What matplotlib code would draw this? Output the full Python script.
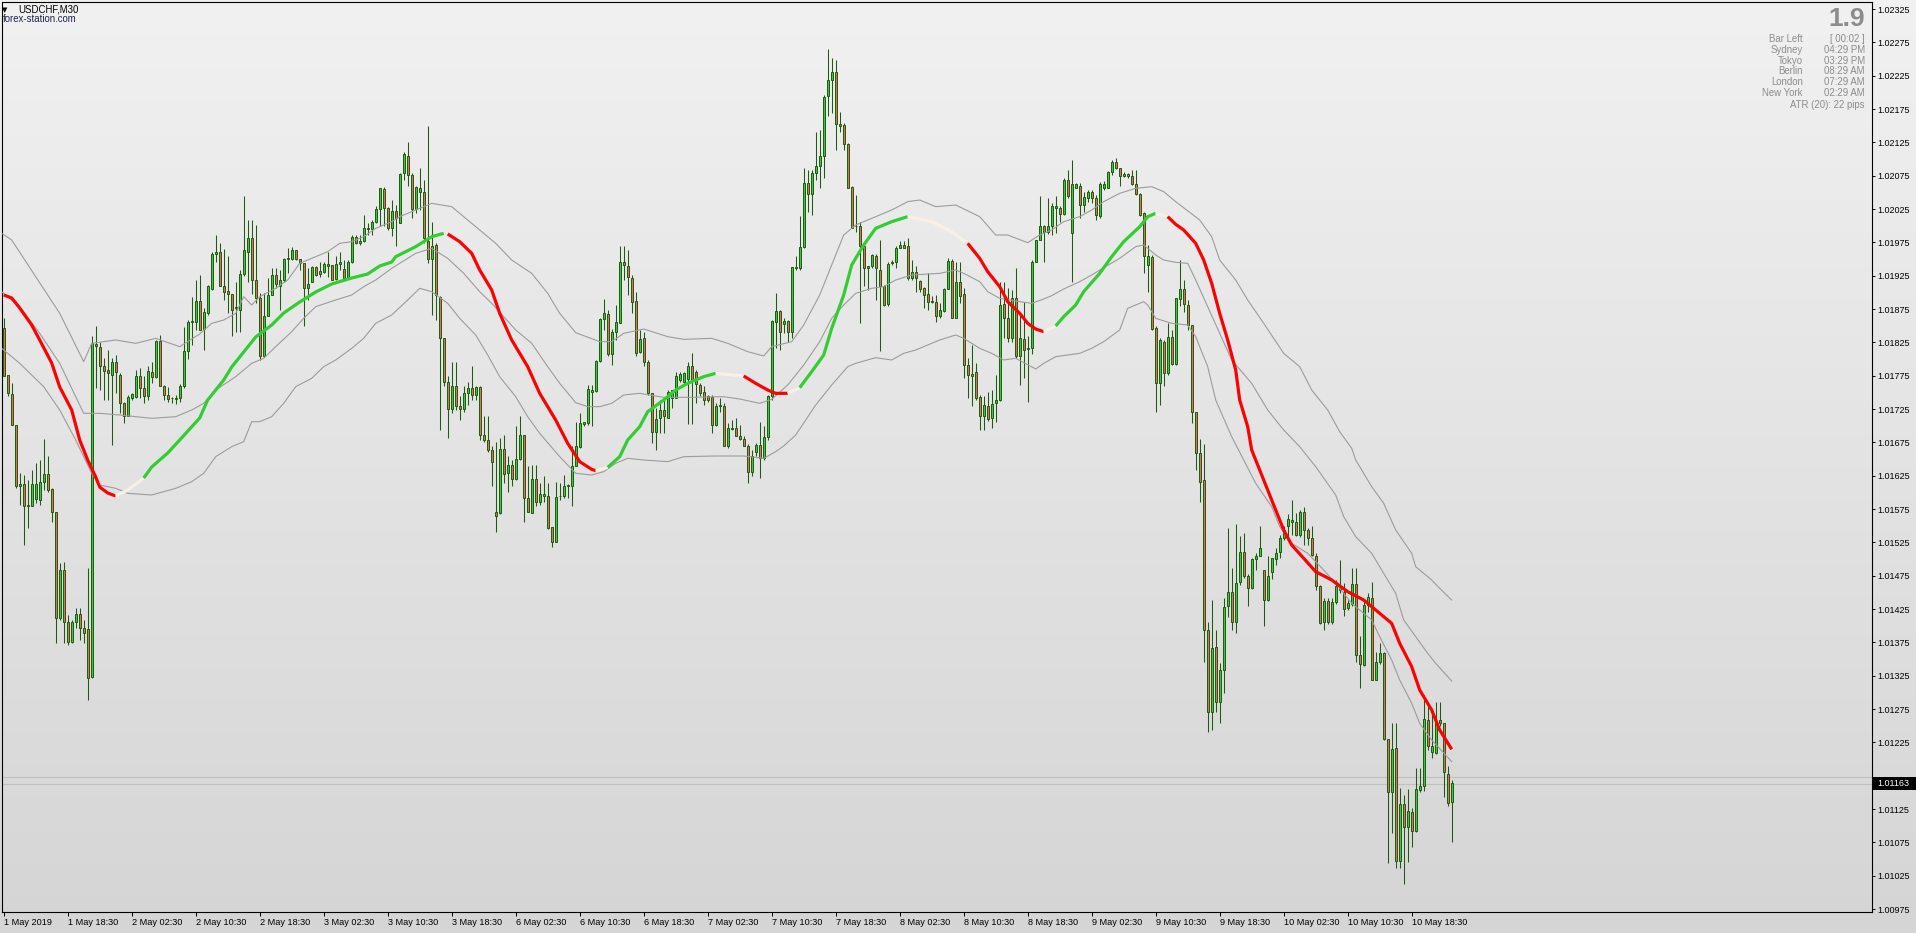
import numpy as np
import matplotlib
matplotlib.use('Agg')
import matplotlib.pyplot as plt
from matplotlib.patches import Rectangle
from matplotlib.colors import LinearSegmentedColormap

plt.rcParams['font.family'] = ['Liberation Sans', 'DejaVu Sans']

# ---- USDCHF M30 candles (oldest first) ----
opens = [
    1.01846, 1.01776, 1.01748, 1.01701, 1.01609, 1.01612, 1.01579, 1.01580, 1.01590, 1.01589,
    1.01615, 1.01627, 1.01605, 1.01570, 1.01411, 1.01484, 1.01405, 1.01376, 1.01406, 1.01418,
    1.01397, 1.01395, 1.01323, 1.01823, 1.01818, 1.01790, 1.01784, 1.01776, 1.01796, 1.01776,
    1.01734, 1.01714, 1.01742, 1.01743, 1.01774, 1.01757, 1.01745, 1.01780, 1.01773, 1.01827,
    1.01759, 1.01746, 1.01742, 1.01742, 1.01741, 1.01759, 1.01812, 1.01856, 1.01855, 1.01887,
    1.01845, 1.01869, 1.01905, 1.01958, 1.01960, 1.01910, 1.01902, 1.01898, 1.01876, 1.01874,
    1.01927, 1.01961, 1.01982, 1.01919, 1.01891, 1.01805, 1.01865, 1.01896, 1.01926, 1.01910,
    1.01919, 1.01950, 1.01950, 1.01963, 1.01950, 1.01944, 1.01906, 1.01916, 1.01938, 1.01927,
    1.01931, 1.01942, 1.01941, 1.01920, 1.01943, 1.01935, 1.01922, 1.01945, 1.01983, 1.01974,
    1.01977, 1.01995, 1.01995, 1.02005, 1.02025, 1.02055, 1.02027, 1.01996, 1.02022, 1.02004,
    1.02079, 1.02105, 1.02076, 1.02025, 1.02050, 1.02050, 1.01977, 1.01950, 1.01971, 1.01893,
    1.01831, 1.01766, 1.01725, 1.01759, 1.01730, 1.01725, 1.01749, 1.01756, 1.01746, 1.01758,
    1.01686, 1.01679, 1.01664, 1.01571, 1.01569, 1.01665, 1.01629, 1.01641, 1.01620, 1.01650,
    1.01686, 1.01591, 1.01569, 1.01620, 1.01585, 1.01594, 1.01594, 1.01548, 1.01525, 1.01594,
    1.01595, 1.01609, 1.01610, 1.01640, 1.01668, 1.01703, 1.01704, 1.01751, 1.01752, 1.01797,
    1.01860, 1.01867, 1.01807, 1.01841, 1.01854, 1.01945, 1.01940, 1.01921, 1.01887, 1.01810,
    1.01831, 1.01795, 1.01749, 1.01691, 1.01711, 1.01724, 1.01712, 1.01741, 1.01741, 1.01769,
    1.01766, 1.01770, 1.01789, 1.01781, 1.01761, 1.01750, 1.01744, 1.01743, 1.01701, 1.01730,
    1.01730, 1.01670, 1.01695, 1.01697, 1.01684, 1.01680, 1.01670, 1.01631, 1.01661, 1.01671,
    1.01651, 1.01683, 1.01744, 1.01856, 1.01872, 1.01852, 1.01857, 1.01840, 1.01936, 1.01936,
    1.01968, 1.02064, 1.02047, 1.02079, 1.02089, 1.02104, 1.02194, 1.02218, 1.02231, 1.02152,
    1.02151, 1.02122, 1.02058, 1.01999, 1.02000, 1.01969, 1.01936, 1.01940, 1.01955, 1.01934,
    1.01910, 1.01882, 1.01944, 1.01946, 1.01967, 1.01971, 1.01970, 1.01921, 1.01931, 1.01917,
    1.01906, 1.01897, 1.01886, 1.01886, 1.01864, 1.01872, 1.01905, 1.01947, 1.01862, 1.01916,
    1.01897, 1.01791, 1.01777, 1.01780, 1.01743, 1.01714, 1.01730, 1.01711, 1.01734, 1.01739,
    1.01882, 1.01861, 1.01832, 1.01892, 1.01805, 1.01830, 1.01815, 1.01816, 1.01946, 1.01979,
    1.02000, 1.01990, 1.02000, 1.02026, 1.02026, 1.02017, 1.02069, 1.01989, 1.02057, 1.02059,
    1.02031, 1.02041, 1.02051, 1.02041, 1.02014, 1.02056, 1.02057, 1.02080, 1.02095, 1.02086,
    1.02074, 1.02077, 1.02074, 1.02063, 1.02047, 1.02019, 1.01941, 1.01953, 1.01846, 1.01764,
    1.01826, 1.01779, 1.01833, 1.01792, 1.01890, 1.01905, 1.01881, 1.01851, 1.01720, 1.01659,
    1.01619, 1.01394, 1.01271, 1.01368, 1.01286, 1.01333, 1.01429, 1.01450, 1.01405, 1.01465,
    1.01510, 1.01475, 1.01456, 1.01500, 1.01505, 1.01484, 1.01438, 1.01480, 1.01500, 1.01510,
    1.01531, 1.01549, 1.01555, 1.01555, 1.01536, 1.01570, 1.01543, 1.01532, 1.01505, 1.01460,
    1.01405, 1.01437, 1.01406, 1.01436, 1.01459, 1.01451, 1.01426, 1.01433, 1.01462, 1.01356,
    1.01341, 1.01431, 1.01441, 1.01319, 1.01345, 1.01359, 1.01230, 1.01150, 1.01216, 1.01047,
    1.01132, 1.01098, 1.01121, 1.01092, 1.01154, 1.01160, 1.01259, 1.01210, 1.01209, 1.01254,
    1.01254, 1.01178, 1.01135,
]
highs = [
    1.01861, 1.01776, 1.01764, 1.01701, 1.01629, 1.01626, 1.01619, 1.01634, 1.01644, 1.01649,
    1.01680, 1.01654, 1.01606, 1.01570, 1.01494, 1.01496, 1.01416, 1.01408, 1.01426, 1.01426,
    1.01408, 1.01486, 1.01834, 1.01849, 1.01826, 1.01801, 1.01814, 1.01801, 1.01806, 1.01779,
    1.01736, 1.01746, 1.01749, 1.01784, 1.01786, 1.01774, 1.01789, 1.01796, 1.01829, 1.01836,
    1.01761, 1.01758, 1.01743, 1.01746, 1.01763, 1.01848, 1.01859, 1.01893, 1.01918, 1.01926,
    1.01876, 1.01911, 1.01961, 1.01986, 1.01974, 1.01965, 1.01954, 1.01898, 1.01916, 1.01934,
    1.02045, 1.02009, 1.02009, 1.02001, 1.01899, 1.01899, 1.01921, 1.01936, 1.01936, 1.01934,
    1.01951, 1.01966, 1.01968, 1.01963, 1.01950, 1.01944, 1.01936, 1.01939, 1.01939, 1.01945,
    1.01946, 1.01960, 1.01941, 1.01954, 1.01960, 1.01949, 1.01949, 1.01986, 1.01986, 1.01986,
    1.02016, 1.02004, 1.02009, 1.02030, 1.02056, 1.02058, 1.02028, 1.02038, 1.02031, 1.02079,
    1.02111, 1.02125, 1.02079, 1.02060, 1.02086, 1.02069, 1.02149, 1.02005, 1.01974, 1.01894,
    1.01831, 1.01774, 1.01795, 1.01795, 1.01744, 1.01759, 1.01766, 1.01789, 1.01759, 1.01759,
    1.01714, 1.01714, 1.01669, 1.01676, 1.01681, 1.01686, 1.01654, 1.01649, 1.01699, 1.01714,
    1.01686, 1.01639, 1.01641, 1.01641, 1.01614, 1.01624, 1.01614, 1.01548, 1.01615, 1.01614,
    1.01626, 1.01612, 1.01670, 1.01706, 1.01719, 1.01706, 1.01761, 1.01761, 1.01799, 1.01861,
    1.01890, 1.01874, 1.01845, 1.01881, 1.01969, 1.01969, 1.01964, 1.01926, 1.01901, 1.01844,
    1.01841, 1.01799, 1.01749, 1.01726, 1.01739, 1.01739, 1.01754, 1.01754, 1.01780, 1.01781,
    1.01781, 1.01796, 1.01809, 1.01784, 1.01764, 1.01759, 1.01746, 1.01746, 1.01734, 1.01741,
    1.01734, 1.01704, 1.01709, 1.01711, 1.01701, 1.01684, 1.01672, 1.01664, 1.01674, 1.01705,
    1.01699, 1.01746, 1.01859, 1.01899, 1.01874, 1.01861, 1.01859, 1.01938, 1.01954, 1.02014,
    1.02086, 1.02084, 1.02083, 1.02141, 1.02144, 1.02196, 1.02265, 1.02251, 1.02249, 1.02171,
    1.02154, 1.02124, 1.02059, 1.02046, 1.02006, 1.01971, 1.01940, 1.01958, 1.01957, 1.01979,
    1.01911, 1.01945, 1.01949, 1.01970, 1.01977, 1.01977, 1.01981, 1.01949, 1.01939, 1.01919,
    1.01908, 1.01929, 1.01894, 1.01896, 1.01884, 1.01906, 1.01952, 1.01950, 1.01946, 1.01946,
    1.01906, 1.01801, 1.01821, 1.01794, 1.01746, 1.01744, 1.01751, 1.01754, 1.01776, 1.01916,
    1.01916, 1.01906, 1.01904, 1.01937, 1.01869, 1.01886, 1.01834, 1.01949, 1.01979, 1.02044,
    1.02001, 1.02041, 1.02034, 1.02044, 1.02029, 1.02071, 1.02084, 1.02099, 1.02064, 1.02064,
    1.02051, 1.02054, 1.02054, 1.02046, 1.02066, 1.02067, 1.02082, 1.02099, 1.02101, 1.02086,
    1.02081, 1.02079, 1.02084, 1.02084, 1.02049, 1.02021, 1.01971, 1.01956, 1.01849, 1.01831,
    1.01829, 1.01854, 1.01844, 1.01891, 1.01949, 1.01919, 1.01889, 1.01851, 1.01720, 1.01680,
    1.01673, 1.01406, 1.01438, 1.01394, 1.01344, 1.01441, 1.01546, 1.01486, 1.01553, 1.01534,
    1.01539, 1.01478, 1.01501, 1.01509, 1.01549, 1.01484, 1.01504, 1.01501, 1.01516, 1.01536,
    1.01550, 1.01568, 1.01589, 1.01569, 1.01574, 1.01578, 1.01546, 1.01549, 1.01509, 1.01461,
    1.01441, 1.01441, 1.01441, 1.01469, 1.01499, 1.01464, 1.01439, 1.01486, 1.01486, 1.01385,
    1.01436, 1.01449, 1.01465, 1.01360, 1.01374, 1.01360, 1.01230, 1.01254, 1.01254, 1.01156,
    1.01146, 1.01155, 1.01126, 1.01186, 1.01186, 1.01296, 1.01286, 1.01274, 1.01285, 1.01285,
    1.01254, 1.01190, 1.01168,
]
lows = [
    1.01774, 1.01744, 1.01701, 1.01606, 1.01581, 1.01521, 1.01546, 1.01579, 1.01584, 1.01581,
    1.01604, 1.01601, 1.01555, 1.01374, 1.01408, 1.01374, 1.01371, 1.01374, 1.01396, 1.01379,
    1.01374, 1.01289, 1.01321, 1.01756, 1.01754, 1.01739, 1.01739, 1.01671, 1.01749, 1.01719,
    1.01704, 1.01714, 1.01739, 1.01741, 1.01741, 1.01734, 1.01739, 1.01764, 1.01771, 1.01759,
    1.01739, 1.01736, 1.01734, 1.01732, 1.01736, 1.01756, 1.01800, 1.01821, 1.01844, 1.01844,
    1.01814, 1.01866, 1.01904, 1.01946, 1.01909, 1.01889, 1.01869, 1.01835, 1.01841, 1.01841,
    1.01924, 1.01916, 1.01898, 1.01884, 1.01798, 1.01804, 1.01864, 1.01896, 1.01906, 1.01874,
    1.01916, 1.01929, 1.01949, 1.01949, 1.01934, 1.01850, 1.01889, 1.01915, 1.01924, 1.01923,
    1.01929, 1.01923, 1.01918, 1.01918, 1.01933, 1.01921, 1.01922, 1.01944, 1.01973, 1.01971,
    1.01976, 1.01986, 1.01986, 1.02004, 1.01999, 1.01999, 1.01994, 1.01984, 1.01969, 1.02004,
    1.02069, 1.02059, 1.02011, 1.02019, 1.02024, 1.01974, 1.01944, 1.01866, 1.01859, 1.01694,
    1.01759, 1.01681, 1.01719, 1.01724, 1.01709, 1.01721, 1.01731, 1.01739, 1.01739, 1.01679,
    1.01676, 1.01661, 1.01609, 1.01540, 1.01568, 1.01614, 1.01600, 1.01609, 1.01619, 1.01649,
    1.01555, 1.01570, 1.01569, 1.01579, 1.01581, 1.01586, 1.01545, 1.01518, 1.01525, 1.01589,
    1.01591, 1.01591, 1.01579, 1.01639, 1.01666, 1.01700, 1.01701, 1.01699, 1.01751, 1.01796,
    1.01844, 1.01805, 1.01791, 1.01829, 1.01854, 1.01919, 1.01896, 1.01869, 1.01804, 1.01809,
    1.01789, 1.01746, 1.01674, 1.01664, 1.01689, 1.01689, 1.01711, 1.01726, 1.01741, 1.01766,
    1.01764, 1.01703, 1.01703, 1.01734, 1.01744, 1.01731, 1.01736, 1.01689, 1.01699, 1.01721,
    1.01670, 1.01666, 1.01694, 1.01684, 1.01678, 1.01669, 1.01614, 1.01624, 1.01654, 1.01621,
    1.01649, 1.01679, 1.01739, 1.01816, 1.01814, 1.01839, 1.01826, 1.01831, 1.01934, 1.01934,
    1.01966, 1.02020, 1.02016, 1.02069, 1.02056, 1.02071, 1.02164, 1.02169, 1.02114, 1.02141,
    1.02114, 1.02056, 1.01996, 1.01991, 1.01854, 1.01909, 1.01904, 1.01936, 1.01889, 1.01812,
    1.01880, 1.01880, 1.01941, 1.01936, 1.01966, 1.01966, 1.01919, 1.01919, 1.01901, 1.01901,
    1.01876, 1.01874, 1.01884, 1.01856, 1.01861, 1.01871, 1.01905, 1.01861, 1.01861, 1.01884,
    1.01771, 1.01741, 1.01730, 1.01739, 1.01694, 1.01694, 1.01707, 1.01696, 1.01706, 1.01737,
    1.01831, 1.01826, 1.01826, 1.01801, 1.01761, 1.01771, 1.01736, 1.01807, 1.01946, 1.01979,
    1.01946, 1.01988, 1.01986, 1.01989, 1.02005, 1.02016, 1.02041, 1.01916, 1.02056, 1.02011,
    1.02021, 1.02036, 1.02034, 1.02009, 1.02011, 1.02054, 1.02056, 1.02076, 1.02085, 1.02059,
    1.02073, 1.02072, 1.02061, 1.02046, 1.02014, 1.01929, 1.01901, 1.01844, 1.01721, 1.01731,
    1.01759, 1.01776, 1.01791, 1.01791, 1.01879, 1.01871, 1.01844, 1.01704, 1.01634, 1.01586,
    1.01345, 1.01240, 1.01244, 1.01271, 1.01254, 1.01299, 1.01413, 1.01394, 1.01389, 1.01461,
    1.01471, 1.01429, 1.01455, 1.01484, 1.01504, 1.01399, 1.01437, 1.01470, 1.01491, 1.01501,
    1.01529, 1.01535, 1.01536, 1.01534, 1.01533, 1.01521, 1.01521, 1.01504, 1.01454, 1.01403,
    1.01393, 1.01403, 1.01402, 1.01433, 1.01449, 1.01414, 1.01424, 1.01429, 1.01345, 1.01307,
    1.01340, 1.01421, 1.01318, 1.01318, 1.01343, 1.01229, 1.01044, 1.01089, 1.01036, 1.01036,
    1.01012, 1.01046, 1.01068, 1.01091, 1.01150, 1.01152, 1.01214, 1.01202, 1.01208, 1.01249,
    1.01143, 1.01130, 1.01076,
]
closes = [
    1.01774, 1.01749, 1.01701, 1.01609, 1.01612, 1.01579, 1.01581, 1.01612, 1.01612, 1.01616,
    1.01627, 1.01604, 1.01570, 1.01412, 1.01484, 1.01406, 1.01375, 1.01405, 1.01418, 1.01397,
    1.01389, 1.01321, 1.01824, 1.01819, 1.01790, 1.01782, 1.01779, 1.01796, 1.01780, 1.01734,
    1.01714, 1.01743, 1.01747, 1.01774, 1.01756, 1.01745, 1.01782, 1.01773, 1.01827, 1.01759,
    1.01746, 1.01740, 1.01741, 1.01740, 1.01759, 1.01812, 1.01855, 1.01857, 1.01887, 1.01844,
    1.01870, 1.01909, 1.01958, 1.01960, 1.01910, 1.01901, 1.01898, 1.01874, 1.01878, 1.01927,
    1.01963, 1.01982, 1.01919, 1.01891, 1.01805, 1.01865, 1.01896, 1.01926, 1.01912, 1.01919,
    1.01950, 1.01951, 1.01963, 1.01950, 1.01944, 1.01906, 1.01913, 1.01938, 1.01926, 1.01932,
    1.01942, 1.01940, 1.01919, 1.01943, 1.01945, 1.01922, 1.01945, 1.01983, 1.01974, 1.01977,
    1.01996, 1.01996, 1.02006, 1.02025, 1.02056, 1.02027, 1.01996, 1.02022, 1.02011, 1.02078,
    1.02107, 1.02076, 1.02025, 1.02058, 1.02056, 1.01981, 1.01950, 1.01970, 1.01896, 1.01831,
    1.01766, 1.01725, 1.01759, 1.01730, 1.01725, 1.01749, 1.01756, 1.01746, 1.01758, 1.01686,
    1.01679, 1.01664, 1.01645, 1.01565, 1.01665, 1.01628, 1.01641, 1.01620, 1.01650, 1.01686,
    1.01591, 1.01570, 1.01620, 1.01585, 1.01597, 1.01597, 1.01546, 1.01525, 1.01593, 1.01595,
    1.01610, 1.01611, 1.01640, 1.01669, 1.01704, 1.01705, 1.01755, 1.01754, 1.01797, 1.01860,
    1.01869, 1.01807, 1.01841, 1.01855, 1.01945, 1.01941, 1.01923, 1.01885, 1.01809, 1.01830,
    1.01795, 1.01749, 1.01690, 1.01710, 1.01724, 1.01715, 1.01751, 1.01754, 1.01774, 1.01778,
    1.01779, 1.01789, 1.01769, 1.01763, 1.01749, 1.01739, 1.01739, 1.01701, 1.01730, 1.01731,
    1.01670, 1.01696, 1.01696, 1.01685, 1.01680, 1.01670, 1.01630, 1.01654, 1.01671, 1.01651,
    1.01683, 1.01744, 1.01857, 1.01872, 1.01841, 1.01857, 1.01840, 1.01938, 1.01938, 1.01968,
    1.02064, 1.02047, 1.02079, 1.02089, 1.02104, 1.02193, 1.02219, 1.02230, 1.02152, 1.02149,
    1.02122, 1.02057, 1.01997, 1.02000, 1.01970, 1.01936, 1.01940, 1.01956, 1.01936, 1.01909,
    1.01881, 1.01942, 1.01946, 1.01966, 1.01971, 1.01967, 1.01922, 1.01931, 1.01921, 1.01905,
    1.01896, 1.01886, 1.01887, 1.01864, 1.01874, 1.01905, 1.01947, 1.01862, 1.01916, 1.01895,
    1.01791, 1.01776, 1.01775, 1.01741, 1.01714, 1.01731, 1.01710, 1.01732, 1.01739, 1.01881,
    1.01861, 1.01832, 1.01892, 1.01804, 1.01831, 1.01814, 1.01816, 1.01946, 1.01979, 1.02000,
    1.01990, 1.02000, 1.02030, 1.02029, 1.02017, 1.02069, 1.02044, 1.02062, 1.02062, 1.02031,
    1.02043, 1.02051, 1.02042, 1.02016, 1.02062, 1.02062, 1.02080, 1.02095, 1.02086, 1.02074,
    1.02077, 1.02074, 1.02062, 1.02047, 1.02016, 1.01955, 1.01954, 1.01845, 1.01764, 1.01829,
    1.01779, 1.01833, 1.01792, 1.01891, 1.01905, 1.01882, 1.01851, 1.01720, 1.01659, 1.01616,
    1.01394, 1.01270, 1.01366, 1.01286, 1.01334, 1.01428, 1.01450, 1.01405, 1.01464, 1.01510,
    1.01475, 1.01456, 1.01500, 1.01505, 1.01516, 1.01439, 1.01474, 1.01501, 1.01509, 1.01531,
    1.01543, 1.01560, 1.01558, 1.01536, 1.01571, 1.01544, 1.01531, 1.01506, 1.01460, 1.01404,
    1.01437, 1.01406, 1.01435, 1.01459, 1.01453, 1.01425, 1.01434, 1.01462, 1.01356, 1.01343,
    1.01431, 1.01443, 1.01319, 1.01346, 1.01359, 1.01230, 1.01150, 1.01215, 1.01047, 1.01132,
    1.01098, 1.01122, 1.01092, 1.01155, 1.01160, 1.01260, 1.01220, 1.01220, 1.01254, 1.01259,
    1.01180, 1.01134, 1.01164,
]

# ---- envelope lines (thin grey), sampled at bar numbers ----
upper_bars = [-1, 2, 8, 14, 20, 22, 28, 33, 38, 44, 49, 52, 55, 58, 60, 62, 64, 68, 71, 74,
              78, 81, 84, 87, 90, 93, 97, 99, 103, 107, 112, 116, 119, 123, 127, 132, 136, 139, 143, 149,
              152, 155, 160, 166, 170, 177, 181, 186, 190, 192, 197, 200, 204, 207, 210, 213, 218, 222, 226, 229,
              233, 238, 244, 248, 251, 256, 259, 262, 265, 269, 272, 275, 279, 283, 287, 290, 293, 299, 302, 304,
              308, 311, 315, 320, 324, 327, 331, 334, 337, 338, 342, 345, 348, 352, 353, 357, 359, 362]
upper_vals = [1.019905, 1.019785, 1.019235, 1.018685, 1.01796, 1.018235, 1.018285, 1.018235, 1.01831, 1.018185,
              1.018375, 1.018535, 1.018585, 1.018685, 1.018935, 1.01881, 1.018935, 1.01906, 1.019185, 1.019435,
              1.019535, 1.01961, 1.019735, 1.01976, 1.019835, 1.01996, 1.02006, 1.020135, 1.020235, 1.020335,
              1.020285, 1.020085, 1.019935, 1.019735, 1.019485, 1.019285, 1.018985, 1.018685, 1.018395, 1.01826,
              1.01826, 1.018385, 1.01845, 1.018335, 1.018295, 1.01831, 1.018235, 1.01811, 1.018045, 1.018185,
              1.01826, 1.01851, 1.01896, 1.01941, 1.01986, 1.02001, 1.020135, 1.020235, 1.02036, 1.020385,
              1.020285, 1.02031, 1.020135, 1.01986, 1.01986, 1.019745, 1.01986, 1.019935, 1.02006, 1.020135,
              1.020235, 1.02036, 1.020485, 1.02056, 1.020585, 1.02051, 1.02036, 1.020085, 1.019835, 1.019485,
              1.019185, 1.018885, 1.018535, 1.018085, 1.017885, 1.017535, 1.017235, 1.01691, 1.01666, 1.016485,
              1.016085, 1.015835, 1.015435, 1.015085, 1.014885, 1.014685, 1.01456, 1.014385]
mid_bars = [-1, 4, 9, 14, 20, 24, 29, 37, 43, 47, 50, 53, 58, 62, 65, 68, 72, 75, 78, 83,
            87, 90, 93, 97, 103, 107, 111, 115, 119, 122, 125, 128, 132, 136, 139, 143, 146, 149, 152, 155,
            159, 165, 172, 180, 184, 189, 192, 196, 200, 204, 207, 210, 213, 217, 220, 223, 227, 234, 238, 240,
            244, 246, 249, 254, 257, 260, 262, 265, 269, 272, 275, 279, 283, 285, 288, 290, 293, 296, 298, 301,
            304, 307, 312, 316, 320, 324, 328, 333, 335, 338, 342, 345, 348, 350, 353, 356, 358, 362]
mid_vals = [1.019035, 1.018785, 1.018385, 1.017935, 1.017185, 1.017185, 1.01716, 1.01711, 1.017135, 1.017235,
            1.017335, 1.017535, 1.017735, 1.017935, 1.01801, 1.018185, 1.01841, 1.01861, 1.018785, 1.018885,
            1.01896, 1.019085, 1.019185, 1.01936, 1.019585, 1.01966, 1.01951, 1.019285, 1.01901, 1.018835,
            1.018635, 1.018435, 1.018235, 1.017885, 1.017635, 1.017345, 1.017285, 1.017285, 1.017335, 1.01746,
            1.017485, 1.017425, 1.017425, 1.017435, 1.0174, 1.017335, 1.017395, 1.01761, 1.01791, 1.01826,
            1.01861, 1.01881, 1.018985, 1.01906, 1.019085, 1.019185, 1.01926, 1.019285, 1.019335, 1.019285,
            1.01916, 1.01901, 1.01891, 1.01886, 1.018835, 1.0189, 1.01895, 1.01905, 1.01916, 1.01926,
            1.01937, 1.01951, 1.019685, 1.01971, 1.01956, 1.019485, 1.01945, 1.019435, 1.019185, 1.018785,
            1.018385, 1.017985, 1.017635, 1.017235, 1.016935, 1.016685, 1.016385, 1.01596, 1.015635, 1.015335,
            1.015085, 1.014785, 1.014485, 1.014085, 1.013835, 1.013585, 1.013435, 1.01317]
low_bars = [-1, 4, 10, 14, 18, 22, 24, 28, 31, 37, 43, 47, 50, 53, 57, 60, 62, 64, 67, 70,
            73, 77, 80, 83, 87, 90, 93, 97, 101, 104, 107, 111, 114, 118, 121, 124, 128, 131, 134, 139,
            143, 147, 150, 153, 156, 160, 166, 170, 178, 185, 190, 193, 195, 198, 203, 207, 211, 213, 218, 222,
            225, 228, 234, 238, 240, 244, 247, 250, 253, 258, 260, 263, 269, 272, 275, 279, 281, 285, 286, 288,
            292, 296, 298, 301, 303, 307, 310, 313, 317, 319, 322, 326, 330, 333, 337, 342, 344, 347, 349, 352,
            354, 357, 362]
low_vals = [1.018185, 1.017935, 1.017585, 1.017235, 1.016785, 1.016285, 1.01611, 1.01606, 1.015985, 1.01596,
            1.01606, 1.01616, 1.016285, 1.016535, 1.016685, 1.01676, 1.01706, 1.01706, 1.017135, 1.017335,
            1.017585, 1.01771, 1.017885, 1.017985, 1.01816, 1.01831, 1.018535, 1.01866, 1.018885, 1.01906,
            1.01901, 1.018835, 1.01861, 1.01836, 1.01806, 1.017735, 1.017435, 1.017135, 1.016885, 1.016535,
            1.016285, 1.01626, 1.01631, 1.016435, 1.01651, 1.016485, 1.01646, 1.016535, 1.016545, 1.016545,
            1.01651, 1.01661, 1.016695, 1.01686, 1.01731, 1.01761, 1.017885, 1.017935, 1.01802, 1.017985,
            1.018085, 1.018135, 1.018285, 1.01836, 1.01831, 1.01816, 1.018085, 1.017985, 1.01801, 1.01785,
            1.017935, 1.018035, 1.018085, 1.01816, 1.01826, 1.018435, 1.01876, 1.01886, 1.01881, 1.01861,
            1.018535, 1.01851, 1.018335, 1.017885, 1.017385, 1.016835, 1.016485, 1.016135, 1.015785, 1.015485,
            1.015235, 1.015085, 1.014835, 1.014635, 1.014335, 1.014085, 1.013835, 1.013485, 1.013185, 1.012835,
            1.012535, 1.012285, 1.01196]

# ---- smoothed trend line: pieces with their state ----
trend_state = ['down', 'flat', 'up', 'down', 'flat', 'up', 'flat', 'down',
               'flat', 'up', 'flat', 'down', 'flat', 'up', 'flat', 'down']
trend_bars = [
    [0, 2, 4, 7, 9, 12, 14, 17, 19, 21, 23, 24, 26, 28],
    [28, 31, 35],
    [35, 37, 41, 44, 49, 51, 55, 57, 60, 63, 67, 70, 74, 78, 82, 87, 91, 94, 97, 98, 103, 107, 110],
    [111, 114, 117, 119, 122, 124, 127, 131, 134, 138, 141, 144, 147, 148],
    [148, 151],
    [151, 154, 156, 159, 161, 165, 168, 171, 175, 178],
    [178, 185],
    [185, 188, 191, 193, 196],
    [196, 199],
    [199, 202, 205, 207, 210, 212, 215, 218, 222, 226],
    [226, 232, 237, 241],
    [241, 244, 246, 249, 251, 254, 256, 258, 260],
    [260, 263],
    [263, 265, 268, 270, 274, 277, 280, 284, 286, 288],
    [288, 291],
    [291, 293, 295, 298, 300, 302, 304, 306, 308, 309, 311, 312, 314, 316, 318, 320, 322, 325, 328, 332,
     336, 340, 344, 347, 349, 352, 354, 357, 359, 362],
]
trend_vals = [
    [1.01896, 1.018915, 1.018765, 1.01851, 1.018285, 1.01794, 1.01758, 1.017235, 1.016785, 1.016485,
     1.01623, 1.01608, 1.01599, 1.015945],
    [1.015945, 1.016035, 1.016215],
    [1.016215, 1.01638, 1.01659, 1.016785, 1.017115, 1.017385, 1.017685, 1.01788, 1.018105, 1.01833,
     1.01851, 1.01869, 1.018855, 1.019005, 1.019125, 1.019215, 1.019275, 1.019395, 1.019455, 1.019535,
     1.019685, 1.019835, 1.019885],
    [1.019875, 1.01976, 1.019585, 1.019335, 1.019035, 1.018685, 1.018285, 1.017885, 1.017485, 1.017085,
     1.016735, 1.01646, 1.016345, 1.016325],
    [1.016325, 1.016375],
    [1.016375, 1.016535, 1.016785, 1.016985, 1.01721, 1.017385, 1.017535, 1.017635, 1.017735, 1.017785],
    [1.017785, 1.017745],
    [1.017745, 1.017635, 1.017535, 1.017485, 1.017485],
    [1.017485, 1.01757],
    [1.01757, 1.01781, 1.01806, 1.01846, 1.01896, 1.01941, 1.01971, 1.01996, 1.02006, 1.020135],
    [1.020135, 1.02006, 1.01991, 1.019735],
    [1.019735, 1.01951, 1.01931, 1.019085, 1.01886, 1.018685, 1.018535, 1.01845, 1.01841],
    [1.01841, 1.018495],
    [1.018495, 1.018635, 1.01881, 1.01901, 1.019285, 1.019535, 1.01976, 1.019985, 1.020135, 1.020185],
    [1.020185, 1.020135],
    [1.020135, 1.02002, 1.019935, 1.019735, 1.019485, 1.019135, 1.018685, 1.018285, 1.017835, 1.017385,
     1.016985, 1.016635, 1.016335, 1.016035, 1.015735, 1.015435, 1.01521, 1.01501, 1.01481, 1.014685,
     1.01451, 1.014385, 1.014185, 1.014035, 1.013735, 1.013385, 1.013035, 1.012735, 1.012435, 1.012145],
]

date_labels = ['1 May 2019', '1 May 18:30', '2 May 02:30', '2 May 10:30', '2 May 18:30',
               '3 May 02:30', '3 May 10:30', '3 May 18:30', '6 May 02:30', '6 May 10:30',
               '6 May 18:30', '7 May 02:30', '7 May 10:30', '7 May 18:30', '8 May 02:30',
               '8 May 10:30', '8 May 18:30', '9 May 02:30', '9 May 10:30', '9 May 18:30',
               '10 May 02:30', '10 May 10:30', '10 May 18:30']
bars_per_label = 16
price_ticks = [1.00975 + 0.0005 * k for k in range(28)]
bid_price = 1.01163
ask_price = 1.01173

symbol = 'USDCHF,M30'
site = 'forex-station.com'
big_value = '1.9'
info_names = ['Bar Left', 'Sydney', 'Tokyo', 'Berlin', 'London', 'New York']
info_values = ['[ 00:02 ]', '04:29 PM', '03:29 PM', '08:29 AM', '07:29 AM', '02:29 AM']
atr_text = 'ATR (20): 22 pips'

# ---- figure ----
W, H = 1916, 933
fig = plt.figure(figsize=(W / 100, H / 100), dpi=100)


def fx(px):
    return px / W


def fy(py):
    return 1 - py / H


bg = fig.add_axes([0, 0, 1, 1], zorder=0)
grad = np.linspace(0, 1, 256).reshape(-1, 1)
bg.imshow(grad, aspect='auto', extent=[0, 1, 0, 1], origin='upper',
          cmap=LinearSegmentedColormap.from_list('bg', ['#f1f1f1', '#d5d5d5']))
bg.axis('off')

ax = fig.add_axes([fx(2), fy(912), fx(1872) - fx(2), (912 - 2) / H], zorder=1)
ax.set_facecolor('none')

o = np.array(opens)
h = np.array(highs)
l = np.array(lows)
c = np.array(closes)
x = np.arange(len(o))
h = np.maximum(h, np.maximum(o, c))
l = np.minimum(l, np.minimum(o, c))
up = c >= o

wick_col = '#1f5a12'
ax.vlines(x, l, h, color=wick_col, lw=0.75, zorder=2)
body_lo = np.minimum(o, c)
body_h = np.maximum(np.abs(c - o), 0.000012)
ax.bar(x, body_h, bottom=body_lo, width=0.55,
       color=np.where(up, '#3cc83c', '#e0704f'), edgecolor=wick_col,
       linewidth=0.7, zorder=3)

ax.axhline(bid_price, color='#c0c0c0', lw=0.8, zorder=1.5)
ax.axhline(ask_price, color='#c0c0c0', lw=0.8, zorder=1.5)

band_col = '#9c9c9c'
ax.plot(upper_bars, upper_vals, color=band_col, lw=0.8, zorder=4)
ax.plot(mid_bars, mid_vals, color=band_col, lw=0.8, zorder=4)
ax.plot(low_bars, low_vals, color=band_col, lw=0.8, zorder=4)

state_col = {'down': '#ff0000', 'up': '#32cd32', 'flat': '#f8efe5'}
for st, bx, bv in zip(trend_state, trend_bars, trend_vals):
    ax.plot(bx, bv, color=state_col[st], lw=2.3, solid_capstyle='butt', zorder=5)

ax.set_xlim((2 - 3.7) / 4, (1872 - 3.7) / 4)
ax.set_ylim(1.009705, 1.023355)

ax.set_xticks([bars_per_label * k for k in range(len(date_labels))])
ax.set_xticklabels(date_labels, ha='left')
ax.yaxis.tick_right()
# the price scale hides the level sitting under the current price box
shown_ticks = [p for p in price_ticks if abs(p - bid_price) > 0.00015]
ax.set_yticks(shown_ticks)
ax.set_yticklabels(['%.5f' % p for p in shown_ticks])
ax.tick_params(axis='x', direction='out', length=3, width=0.7, pad=1.5,
               labelsize=6.6, colors='black')
ax.tick_params(axis='y', direction='out', length=2.5, width=0.7, pad=1.5,
               labelsize=6.5, colors='black')
for sp in ax.spines.values():
    sp.set_color('black')
    sp.set_linewidth(0.8)

# current price box
fig.patches.append(Rectangle((fx(1873), fy(790)), fx(1916) - fx(1873), (790 - 777) / H,
                             transform=fig.transFigure, facecolor='black', edgecolor='none', zorder=5))
fig.text(fx(1877), fy(783.5), '%.5f' % bid_price, color='white', fontsize=6.5,
         va='center', ha='left', zorder=6)

# top-left caption
fig.text(fx(4.5), fy(10), '\u25BC', fontsize=5, va='center', ha='center',
         family=['DejaVu Sans'], zorder=6)
fig.text(fx(18), fy(10), symbol, fontsize=6.9, va='center', ha='left', zorder=6)
fig.text(fx(3), fy(19.5), site, fontsize=6.9, va='center', ha='left', color='#1c2450', zorder=6)

# info panel
grey = '#8c8c8c'
fig.text(fx(1865), fy(19), big_value, fontsize=19, fontweight='bold', color=grey,
         va='center', ha='right', zorder=6)
row_y = [39, 50, 60.7, 71.3, 82, 92.7]
for name, val, yy in zip(info_names, info_values, row_y):
    fig.text(fx(1803), fy(yy), name, fontsize=6.9, color=grey, va='center', ha='right', zorder=6)
    fig.text(fx(1865), fy(yy), val, fontsize=6.9, color=grey, va='center', ha='right', zorder=6)
fig.text(fx(1865), fy(104.5), atr_text, fontsize=6.9, color=grey, va='center', ha='right', zorder=6)

fig.savefig('out.png', dpi=100)
